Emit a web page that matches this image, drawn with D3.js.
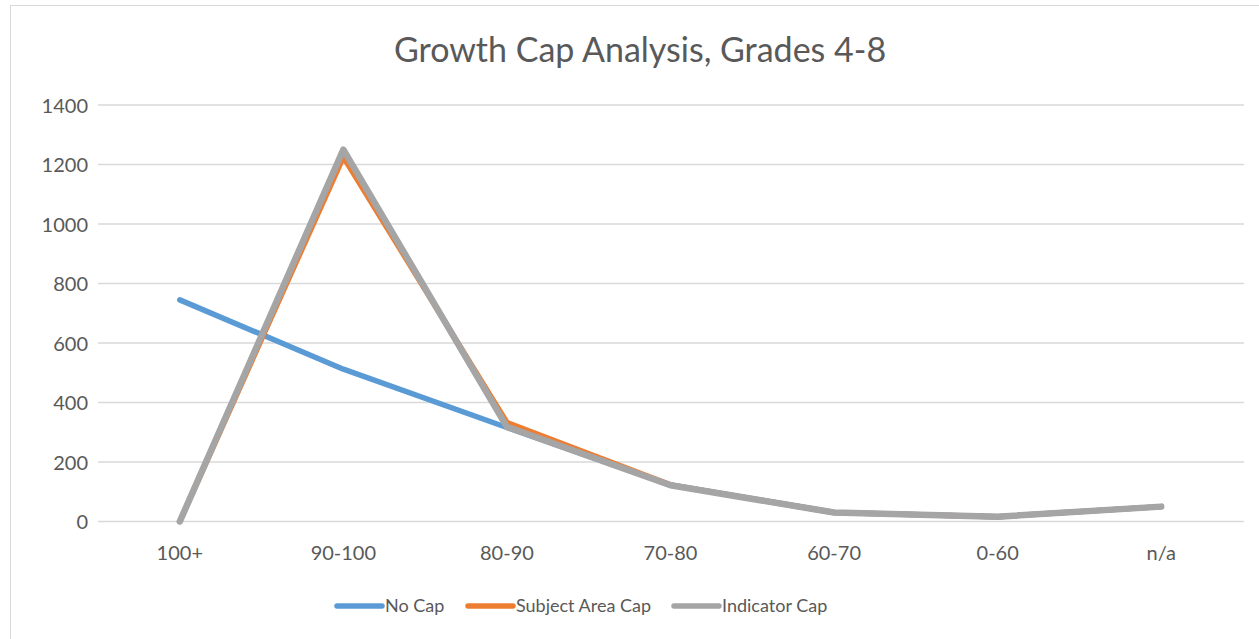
<!DOCTYPE html>
<html>
<head>
<meta charset="utf-8">
<script src="https://cdn.jsdelivr.net/npm/d3@7"></script>
<style>
  body { margin: 0; background: #fff; }
  text { font-family: "Lato", "Open Sans", sans-serif; fill: #595959; }
</style>
</head>
<body>
<div id="chart"></div>
<script>
// categories and the three series
var categories = ["100+", "90-100", "80-90", "70-80", "60-70", "0-60", "n/a"];
var noCap = [745, 512, 316, 123, 30, 16, 50];
var subjectAreaCap = [0, 1225, 333, 123, 30, 16, 50];
var indicatorCap = [0, 1250, 318, 122, 30, 16, 50];
var yTicks = [0, 200, 400, 600, 800, 1000, 1200, 1400];

var series = [
  {name: "No Cap", values: noCap, color: "#5B9BD5"},
  {name: "Subject Area Cap", values: subjectAreaCap, color: "#ED7D31"},
  {name: "Indicator Cap", values: indicatorCap, color: "#A5A5A5"}
];

var width = 1259, height = 639;

var svg = d3.select("#chart").append("svg")
  .attr("width", width)
  .attr("height", height);

// chart border
svg.append("rect")
  .attr("x", 10.5).attr("y", 5.5)
  .attr("width", 1270).attr("height", 650)
  .attr("fill", "none")
  .attr("stroke", "#D9D9D9");

var x = d3.scaleBand().domain(categories).range([98, 1243]);
var y = d3.scaleLinear().domain([0, 1400]).range([521.5, 105]);

// gridlines
svg.append("g")
  .selectAll("line")
  .data(yTicks)
  .enter().append("line")
  .attr("x1", 98).attr("x2", 1244)
  .attr("y1", d => y(d)).attr("y2", d => y(d))
  .attr("stroke", "#D9D9D9")
  .attr("stroke-width", 1.5);

// y axis labels
var yAxis = svg.append("g")
  .attr("transform", "translate(88,0)")
  .call(d3.axisLeft(y).tickValues(yTicks).tickFormat(d3.format("d")).tickSize(0).tickPadding(0));
yAxis.select(".domain").remove();
yAxis.selectAll("text")
  .style("font-size", "20px")
  .attr("fill", "#595959")
  .attr("dy", "0.35em");

// x axis labels
var xAxis = svg.append("g")
  .attr("transform", "translate(0,553)")
  .call(d3.axisBottom(x).tickSize(0).tickPadding(0));
xAxis.select(".domain").remove();
xAxis.selectAll("text")
  .style("font-size", "20px")
  .attr("fill", "#595959")
  .attr("dy", "0.35em");

// lines
var line = d3.line()
  .x((d, i) => x(categories[i]) + x.bandwidth() / 2)
  .y(d => y(d));

svg.append("g")
  .selectAll("path")
  .data(series)
  .enter().append("path")
  .attr("d", d => line(d.values))
  .attr("fill", "none")
  .attr("stroke", d => d.color)
  .attr("stroke-width", d => d.name === "Indicator Cap" ? 6.5 : 5.5)
  .attr("stroke-linejoin", "round")
  .attr("stroke-linecap", "round");

// title
svg.append("text")
  .attr("x", 640).attr("y", 50)
  .attr("text-anchor", "middle")
  .attr("dy", "0.35em")
  .style("font-size", "34px")
  .text("Growth Cap Analysis, Grades 4-8");

// legend
var legendX = [337, 468, 674];
var legend = svg.append("g")
  .selectAll("g")
  .data(series)
  .enter().append("g")
  .attr("transform", (d, i) => "translate(" + legendX[i] + ",606)");

legend.append("line")
  .attr("x1", 0).attr("x2", 45)
  .attr("stroke", d => d.color)
  .attr("stroke-width", 5.5)
  .attr("stroke-linecap", "round");

legend.append("text")
  .attr("x", 48)
  .attr("dy", "0.35em")
  .style("font-size", "18px")
  .text(d => d.name);
</script>
</body>
</html>
